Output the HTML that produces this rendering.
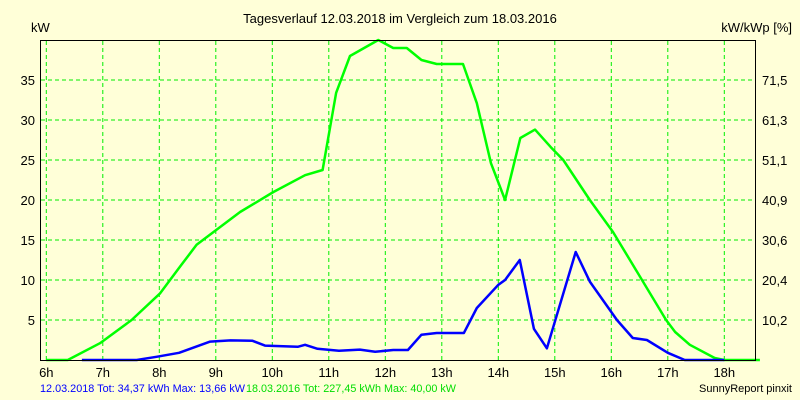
<!DOCTYPE html>
<html><head><meta charset="utf-8"><style>
body{margin:0;background:#ffffd8;}
svg{display:block;font-family:"Liberation Sans",sans-serif;}
</style></head><body>
<svg id="c" width="800" height="400">
<rect width="800" height="400" fill="#ffffd8"/>
<text x="400" y="23" text-anchor="middle" font-size="13">Tagesverlauf 12.03.2018 im Vergleich zum 18.03.2016</text>
<text x="31" y="32" font-size="13">kW</text>
<text x="792" y="32" text-anchor="end" font-size="13">kW/kWp [%]</text>
<g id="grid"></g><g id="ticks"></g><g id="series"></g>
<line x1="40.5" y1="40" x2="40.5" y2="360.5" stroke="#000"/>
<line x1="40" y1="40.5" x2="755" y2="40.5" stroke="#000"/>
<line x1="755.5" y1="40" x2="755.5" y2="360.5" stroke="#000"/>
<line x1="40" y1="360.5" x2="756" y2="360.5" stroke="#000"/>
<text x="40" y="392" font-size="11" fill="#0000ff" textLength="205" lengthAdjust="spacingAndGlyphs">12.03.2018 Tot: 34,37 kWh Max: 13,66 kW</text>
<text x="246" y="392" font-size="11" fill="#00dd00" textLength="210" lengthAdjust="spacingAndGlyphs">18.03.2016 Tot: 227,45 kWh Max: 40,00 kW</text>
<text x="792" y="392" text-anchor="end" font-size="11">SunnyReport pinxit</text>
</svg>
<script>
const hourTicks=[6,7,8,9,10,11,12,13,14,15,16,17,18];
const kwTicks=[5,10,15,20,25,30,35];
const pctTicks=["10,2","20,4","30,6","40,9","51,1","61,3","71,5"];
const greenT=[6,6.38,6.95,7.51,8.01,8.37,8.66,8.96,9.43,10.02,10.58,10.89,11.13,11.375,11.876,12.14,12.38,12.64,12.91,13.375,13.62,13.87,14.12,14.39,14.65,14.93,15.15,15.62,16.03,16.33,16.97,17.13,17.39,17.83,18,18.63];
const greenV=[0,0,2.1,5,8.3,11.7,14.4,16,18.5,21,23.1,23.75,33.4,38,40,39,39,37.5,37,37,32.1,24.6,20,27.75,28.8,26.6,25,20,16,12.5,5,3.5,1.9,0.25,0,0];
const blueT=[6.63,7.6,7.95,8.35,8.9,9.26,9.65,9.87,10.45,10.58,10.8,11.18,11.55,11.82,12.14,12.4,12.64,12.91,13.39,13.62,14.0,14.12,14.38,14.63,14.86,15.37,15.62,16.1,16.38,16.63,17.0,17.3,18];
const blueV=[0,0,0.4,0.9,2.3,2.45,2.4,1.8,1.65,1.9,1.4,1.15,1.3,1.03,1.25,1.25,3.16,3.37,3.37,6.5,9.4,10,12.5,3.9,1.46,13.5,9.8,5,2.75,2.5,0.9,0,0];
const X=h=>46.3+(h-6)*56.5, Y=v=>360-v*8;
const NS="http://www.w3.org/2000/svg";
function mk(tag,attrs,parent,txt){const e=document.createElementNS(NS,tag);for(const k in attrs)e.setAttribute(k,attrs[k]);if(txt!==undefined)e.textContent=txt;document.getElementById(parent).appendChild(e);return e;}
hourTicks.forEach(h=>{
  const l=mk('line',{x1:X(h),x2:X(h),y1:41,y2:360,stroke:'#00ee00','stroke-dasharray':'4,3'},'grid');
  
  
  const t=mk('text',{x:X(h),y:377,'text-anchor':'middle','font-size':13},'ticks',h+'h');
  
  
});
kwTicks.forEach((v,i)=>{
  const l=mk('line',{x1:41,x2:755,y1:Y(v),y2:Y(v),stroke:'#00ee00','stroke-dasharray':'4,3'},'grid');
  
  
  const t=mk('text',{x:35,y:Y(v)+5,'text-anchor':'end','font-size':13},'ticks',String(v));
  
  
  const r=mk('text',{x:762,y:Y(v)+5,'font-size':13},'ticks',pctTicks[i]);
  
  
});
function line(T,V,col,name){
  const p=mk('polyline',{points:T.map((t,i)=>X(t)+','+Y(V[i])).join(' '),fill:'none',stroke:col,'stroke-width':2.5,'stroke-linejoin':'round'},'series');
  
  
}
line(greenT,greenV,'#00ff00','series-2016');
line(blueT,blueV,'#0000ff','series-2018');
</script>
</body></html>
